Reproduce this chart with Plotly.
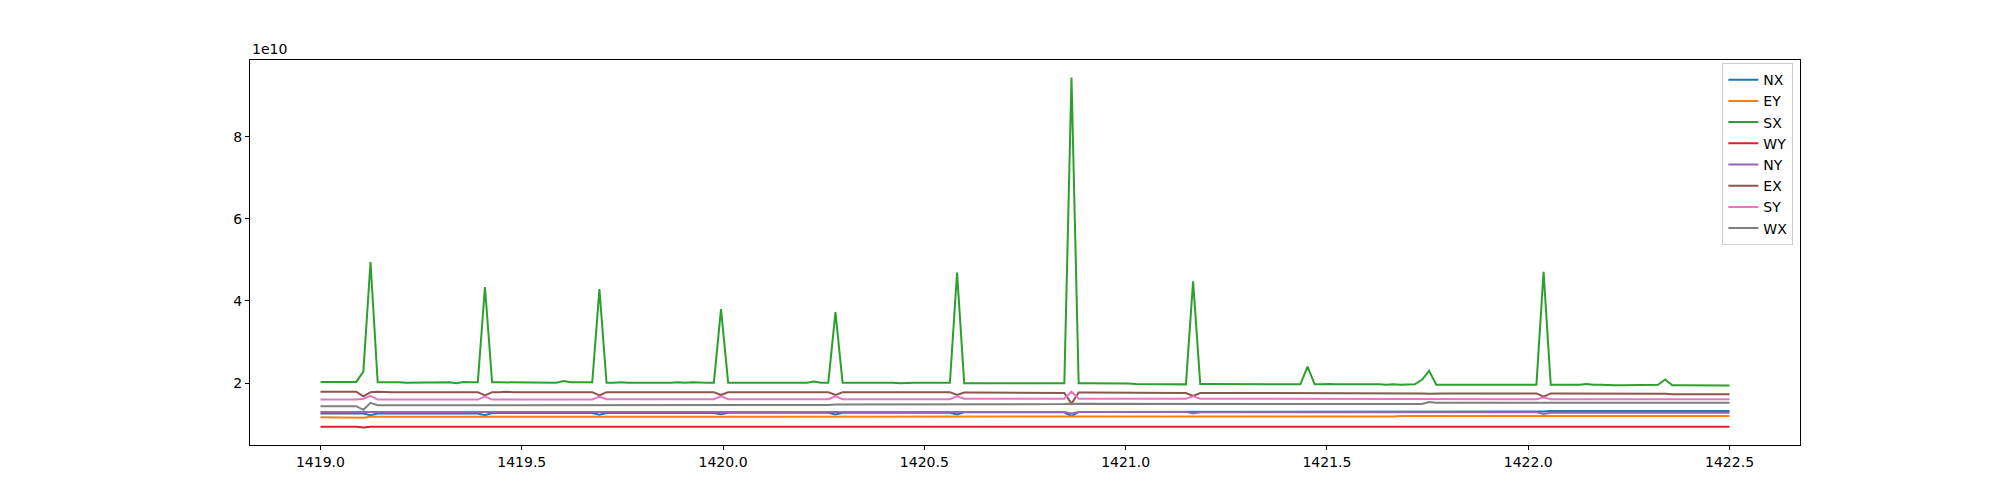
import numpy as np
import plotly.graph_objects as go

# sample positions (198 evenly spaced samples from 1419.0 to 1422.5)
x = np.linspace(1419.0, 1422.5, 198)

# values in units of 1e10
NX = [1.26, 1.26, 1.26, 1.26, 1.26, 1.26, 1.26,
      1.22,
      1.26, 1.26, 1.26, 1.26, 1.26, 1.26, 1.26, 1.26, 1.26, 1.26, 1.26, 1.26, 1.26, 1.26, 1.26,
      1.22,
      1.27, 1.27, 1.27, 1.27, 1.27, 1.27, 1.27, 1.27, 1.27, 1.27, 1.27, 1.27, 1.27, 1.27, 1.27,
      1.23,
      1.27, 1.27, 1.27, 1.27, 1.27, 1.27, 1.27, 1.27, 1.27, 1.27, 1.27, 1.27, 1.27, 1.27, 1.27, 1.27,
      1.24,
      1.28, 1.28, 1.28, 1.28, 1.28, 1.28, 1.28, 1.28, 1.28, 1.28, 1.28, 1.28, 1.28, 1.28, 1.28,
      1.24,
      1.28, 1.28, 1.28, 1.28, 1.28, 1.28, 1.28, 1.28, 1.28, 1.28, 1.28, 1.28, 1.28, 1.28, 1.28, 1.28,
      1.24,
      1.29, 1.29, 1.29, 1.29, 1.29, 1.29, 1.29, 1.29, 1.29, 1.29, 1.29, 1.29, 1.29, 1.29, 1.29,
      1.20,
      1.30, 1.30, 1.30, 1.30, 1.30, 1.30, 1.30, 1.30, 1.30, 1.30, 1.30, 1.30, 1.30, 1.30, 1.30, 1.30,
      1.30,
      1.31, 1.31, 1.31, 1.31, 1.31, 1.31, 1.31, 1.31, 1.31, 1.31, 1.31, 1.31, 1.31, 1.31, 1.31,
      1.31, 1.31, 1.31, 1.31, 1.31, 1.31, 1.31, 1.31, 1.31, 1.31, 1.31, 1.31, 1.31, 1.31, 1.31, 1.31,
      1.31, 1.31, 1.31, 1.31, 1.31, 1.31, 1.31, 1.31, 1.31, 1.31, 1.31, 1.31, 1.31, 1.31, 1.31, 1.31, 1.31,
      1.31,
      1.32, 1.32, 1.32, 1.32, 1.32, 1.32, 1.32, 1.32, 1.32, 1.32, 1.32, 1.32, 1.32,
      1.32, 1.32, 1.32, 1.32, 1.32, 1.32, 1.32, 1.32, 1.32, 1.32, 1.32, 1.32, 1.32]

EY = [1.17, 1.17, 1.17, 1.17, 1.17, 1.17,
      1.16,
      1.18, 1.18, 1.18, 1.18, 1.18, 1.18, 1.18, 1.18, 1.18, 1.18, 1.18, 1.18, 1.18, 1.18, 1.18, 1.18, 1.18, 1.18,
      1.18, 1.18, 1.18, 1.18, 1.18, 1.18, 1.18, 1.18, 1.18, 1.18, 1.18, 1.18, 1.18, 1.18, 1.18, 1.18, 1.18, 1.18,
      1.18, 1.18, 1.18, 1.18, 1.18, 1.18, 1.18, 1.18, 1.18, 1.18, 1.18, 1.18, 1.18, 1.18, 1.18, 1.18, 1.18, 1.18,
      1.18, 1.18, 1.18, 1.18, 1.18, 1.18, 1.18, 1.18, 1.18, 1.18, 1.18, 1.18, 1.18, 1.18, 1.18, 1.18, 1.18, 1.18,
      1.18, 1.18,
      1.19, 1.19, 1.19, 1.19, 1.19, 1.19, 1.19, 1.19, 1.19, 1.19, 1.19, 1.19, 1.19, 1.19, 1.19, 1.19, 1.19, 1.19,
      1.19, 1.19, 1.19, 1.19, 1.19, 1.19, 1.19, 1.19, 1.19, 1.19, 1.19, 1.19, 1.19, 1.19, 1.19, 1.19, 1.19, 1.19,
      1.19, 1.19, 1.19, 1.19, 1.19, 1.19, 1.19, 1.19, 1.19, 1.19, 1.19, 1.19, 1.19, 1.19, 1.19, 1.19, 1.19, 1.19,
      1.19, 1.19, 1.19, 1.19, 1.19, 1.19, 1.19, 1.19, 1.19, 1.19, 1.19, 1.19, 1.19, 1.19, 1.19, 1.19,
      1.20, 1.20, 1.20, 1.20, 1.20, 1.20, 1.20, 1.20, 1.20, 1.20, 1.20, 1.20, 1.20, 1.20, 1.20, 1.20,
      1.20, 1.20, 1.20, 1.20, 1.20, 1.20, 1.20, 1.20, 1.20, 1.20, 1.20, 1.20, 1.20, 1.20, 1.20, 1.20,
      1.20, 1.20, 1.20, 1.20, 1.20, 1.20, 1.20, 1.20, 1.20, 1.20, 1.20, 1.20, 1.20, 1.20, 1.20]

SX = [2.03, 2.03, 2.02, 2.02, 2.02, 2.03, 2.28,
      4.95,
      2.02, 2.02, 2.03, 2.02, 2.01, 2.01, 2.02, 2.02, 2.01, 2.02, 2.02, 2.00, 2.03, 2.02, 2.02,
      4.34,
      2.02, 2.02, 2.02, 2.02, 2.01, 2.02, 2.01, 2.01, 2.02, 2.01, 2.05, 2.02, 2.02, 2.02, 2.02,
      4.29,
      2.01, 2.01, 2.02, 2.01, 2.01, 2.01, 2.01, 2.00, 2.01, 2.01, 2.02, 2.01, 2.02, 2.01, 2.01, 2.01,
      3.80,
      2.01, 2.01, 2.02, 2.01, 2.01, 2.01, 2.01, 2.02, 2.01, 2.01, 2.02, 2.01, 2.04, 2.01, 2.01,
      3.73,
      2.01, 2.01, 2.02, 2.01, 2.01, 2.01, 2.01, 2.01, 2.00, 2.01, 2.01, 2.01, 2.01, 2.01, 2.01, 2.01,
      4.69,
      2.00, 2.00, 2.00, 2.00, 2.00, 2.00, 2.00, 2.00, 2.00, 2.00, 2.00, 1.99, 2.00, 2.00, 2.00,
      9.44,
      2.00, 2.00, 2.00, 1.99, 1.99, 1.99, 1.99, 1.99, 1.98, 1.98, 1.98, 1.98, 1.98, 1.98, 1.98, 1.97,
      4.48,
      1.98, 1.98, 1.98, 1.98, 1.97, 1.97, 1.97, 1.97, 1.97, 1.97, 1.97, 1.97, 1.98, 1.97, 1.97,
      2.40,
      1.97, 1.97, 1.98, 1.97, 1.97, 1.97, 1.97, 1.98, 1.97, 1.97, 1.96, 1.97, 1.96, 1.97, 1.97,
      2.08,
      2.30,
      1.96, 1.96, 1.96, 1.96, 1.96, 1.96, 1.95, 1.96, 1.96, 1.96, 1.95, 1.96, 1.96, 1.95, 1.96,
      4.71,
      1.96, 1.96, 1.96, 1.96, 1.96, 1.98, 1.96, 1.96, 1.95, 1.95, 1.95, 1.95, 1.95, 1.95, 1.95, 1.96,
      2.09,
      1.95, 1.95, 1.95, 1.95, 1.95, 1.94, 1.94, 1.94, 1.94]

WY = [0.94, 0.94, 0.94, 0.94, 0.94, 0.94,
      0.92,
      0.94, 0.94, 0.94, 0.94, 0.94, 0.94, 0.94, 0.94, 0.94, 0.94, 0.94, 0.94, 0.94, 0.94, 0.94, 0.94, 0.94, 0.94,
      0.94, 0.94, 0.94, 0.94, 0.94, 0.94, 0.94, 0.94, 0.94, 0.94, 0.94, 0.94, 0.94, 0.94, 0.94, 0.94, 0.94, 0.94,
      0.94, 0.94, 0.94, 0.94, 0.94, 0.94, 0.94, 0.94, 0.94, 0.94, 0.94, 0.94, 0.94, 0.94, 0.94, 0.94, 0.94, 0.94,
      0.94, 0.94, 0.94, 0.94, 0.93, 0.93, 0.93, 0.93, 0.93, 0.93, 0.94, 0.94, 0.94, 0.94, 0.94, 0.94, 0.94, 0.94,
      0.94, 0.94, 0.94, 0.94, 0.94, 0.94, 0.94, 0.94, 0.94, 0.94, 0.94, 0.94, 0.94, 0.94, 0.94, 0.94, 0.94, 0.94,
      0.94, 0.94, 0.94, 0.94, 0.94, 0.94, 0.94, 0.94, 0.94, 0.94, 0.94, 0.94, 0.94, 0.94, 0.94, 0.94, 0.94, 0.94,
      0.94, 0.94, 0.94, 0.94, 0.94, 0.94, 0.94, 0.94, 0.94, 0.94, 0.94, 0.94, 0.94, 0.94, 0.94, 0.94, 0.94, 0.94,
      0.94, 0.94, 0.94, 0.94, 0.94, 0.94, 0.94, 0.94, 0.94, 0.94, 0.94, 0.94, 0.94, 0.94, 0.94, 0.94, 0.94, 0.94,
      0.94, 0.94, 0.94, 0.94, 0.94, 0.94, 0.94, 0.94, 0.94, 0.94, 0.94, 0.94, 0.94, 0.94, 0.94, 0.94, 0.94, 0.94,
      0.94, 0.94, 0.94, 0.94, 0.94, 0.94, 0.94, 0.94, 0.94, 0.94, 0.94, 0.94, 0.94, 0.94, 0.94, 0.94, 0.94, 0.94,
      0.94, 0.94, 0.94, 0.94, 0.94, 0.94, 0.94, 0.94, 0.94, 0.94, 0.94]

NY = [1.30, 1.30, 1.30, 1.30, 1.30, 1.30, 1.30, 1.30, 1.30, 1.30, 1.30, 1.30, 1.30, 1.30, 1.30,
      1.30, 1.30, 1.30, 1.30, 1.30, 1.30, 1.30, 1.30, 1.30, 1.30, 1.30, 1.30, 1.30, 1.30, 1.30,
      1.30, 1.30, 1.30, 1.30, 1.30, 1.30, 1.30, 1.30, 1.30, 1.30, 1.30, 1.30, 1.30, 1.30, 1.30,
      1.30, 1.30, 1.30, 1.30, 1.30, 1.30, 1.30, 1.30, 1.30, 1.30, 1.30, 1.30, 1.30, 1.30, 1.30,
      1.30, 1.30, 1.30, 1.30, 1.30, 1.30, 1.30, 1.30, 1.30, 1.30, 1.30, 1.30, 1.30, 1.30, 1.30,
      1.30, 1.30, 1.30, 1.30, 1.30, 1.30, 1.30, 1.30, 1.30, 1.30, 1.30, 1.30, 1.30, 1.30, 1.30,
      1.30, 1.30, 1.30, 1.30, 1.30, 1.30, 1.30, 1.30, 1.30, 1.30, 1.30, 1.30, 1.30, 1.30, 1.30,
      1.26,
      1.30, 1.30, 1.30, 1.30, 1.30, 1.30, 1.30, 1.30, 1.30, 1.30, 1.30, 1.30, 1.30, 1.30, 1.30, 1.30,
      1.26,
      1.29, 1.29, 1.29, 1.29, 1.29, 1.29, 1.29, 1.29, 1.29, 1.29, 1.29, 1.29, 1.29, 1.29, 1.29, 1.29,
      1.29, 1.29, 1.29, 1.29, 1.29, 1.29, 1.29, 1.29, 1.29, 1.29, 1.29, 1.29, 1.29, 1.29, 1.29, 1.29,
      1.29, 1.29, 1.29, 1.29, 1.29, 1.29, 1.29, 1.29, 1.29, 1.29, 1.29, 1.29, 1.29, 1.29, 1.29, 1.29,
      1.25,
      1.28, 1.28, 1.28, 1.28, 1.28, 1.28, 1.28, 1.28, 1.28, 1.28, 1.28, 1.28, 1.28,
      1.28, 1.28, 1.28, 1.28, 1.28, 1.28, 1.28, 1.28, 1.28, 1.28, 1.28, 1.28, 1.28]

EX = [1.79, 1.79, 1.79, 1.79, 1.79, 1.79,
      1.68,
      1.78,
      1.79, 1.78, 1.78, 1.78, 1.78, 1.78, 1.78, 1.78, 1.78, 1.78, 1.78, 1.78, 1.78, 1.78, 1.78,
      1.70,
      1.78, 1.78, 1.79, 1.78, 1.78, 1.78, 1.78, 1.78, 1.78, 1.78, 1.78, 1.78, 1.78, 1.78, 1.78,
      1.70,
      1.78, 1.78, 1.78, 1.78, 1.78, 1.78, 1.78, 1.78, 1.78, 1.78, 1.78, 1.78, 1.78, 1.78, 1.78, 1.78,
      1.71,
      1.78, 1.78, 1.78, 1.78, 1.78, 1.78, 1.78, 1.78, 1.78, 1.79, 1.79, 1.78, 1.78, 1.78, 1.78,
      1.71,
      1.78, 1.78, 1.78, 1.78, 1.78, 1.78, 1.78, 1.78, 1.79, 1.79, 1.79, 1.79, 1.79, 1.79, 1.79, 1.78,
      1.71,
      1.77, 1.77, 1.77, 1.77, 1.77, 1.77, 1.77, 1.77, 1.77, 1.77, 1.77, 1.77, 1.76, 1.76, 1.76,
      1.50,
      1.77, 1.77, 1.77, 1.77, 1.76, 1.76, 1.76, 1.76, 1.76, 1.76, 1.76, 1.76, 1.76, 1.76, 1.76, 1.76,
      1.69,
      1.76, 1.76, 1.76, 1.76, 1.76, 1.76, 1.76, 1.76, 1.76, 1.76, 1.76, 1.76, 1.76, 1.76, 1.76,
      1.75,
      1.76, 1.76, 1.76, 1.76, 1.75, 1.75, 1.75, 1.75, 1.75, 1.75, 1.75, 1.75, 1.75, 1.75, 1.75, 1.75,
      1.74,
      1.75, 1.75, 1.75, 1.75, 1.75, 1.75, 1.75, 1.75, 1.75, 1.75, 1.75, 1.75, 1.75, 1.75, 1.75,
      1.67,
      1.75, 1.75, 1.75, 1.75, 1.75, 1.74, 1.74, 1.74, 1.74, 1.74, 1.74, 1.74, 1.74,
      1.74, 1.74, 1.74, 1.74, 1.73, 1.73, 1.73, 1.73, 1.73, 1.73, 1.73, 1.73, 1.73]

SY = [1.60, 1.60, 1.60, 1.60, 1.60, 1.60,
      1.62,
      1.69,
      1.60, 1.60, 1.60, 1.60, 1.60, 1.60, 1.60, 1.60, 1.60, 1.60, 1.60, 1.60, 1.60, 1.60, 1.60,
      1.67,
      1.60, 1.60, 1.60, 1.60, 1.60, 1.60, 1.60, 1.60, 1.60, 1.60, 1.60, 1.60, 1.60, 1.60, 1.60,
      1.67,
      1.61, 1.61, 1.61, 1.61, 1.61, 1.61, 1.61, 1.61, 1.61, 1.61, 1.61, 1.61, 1.61, 1.61, 1.61, 1.61,
      1.68,
      1.61, 1.61, 1.61, 1.61, 1.61, 1.61, 1.61, 1.61, 1.61, 1.61, 1.61, 1.61, 1.61, 1.61, 1.61,
      1.68,
      1.61, 1.61, 1.61, 1.61, 1.61, 1.61, 1.61, 1.61, 1.61, 1.61, 1.61, 1.61, 1.61, 1.61, 1.61, 1.61,
      1.68,
      1.62, 1.62, 1.62, 1.62, 1.62, 1.62, 1.62, 1.62, 1.62, 1.62, 1.62, 1.62, 1.62, 1.62, 1.62,
      1.79,
      1.62, 1.62, 1.62, 1.62, 1.62, 1.62, 1.62, 1.62, 1.62, 1.62, 1.62, 1.62, 1.62, 1.62, 1.62, 1.62,
      1.68,
      1.62, 1.62, 1.62, 1.62, 1.62, 1.62, 1.62, 1.62, 1.62, 1.62, 1.62, 1.62, 1.62, 1.62, 1.62,
      1.62,
      1.62, 1.62, 1.62, 1.62, 1.62, 1.62, 1.62, 1.62, 1.62, 1.62, 1.62, 1.62, 1.62, 1.62, 1.62, 1.62,
      1.62,
      1.61, 1.61, 1.61, 1.61, 1.61, 1.61, 1.61, 1.61, 1.61, 1.61, 1.61, 1.61, 1.61, 1.61, 1.61,
      1.65,
      1.61, 1.61, 1.61, 1.61, 1.61, 1.61, 1.61, 1.61, 1.61, 1.61, 1.61, 1.61, 1.61,
      1.61, 1.61, 1.61, 1.61, 1.61, 1.61, 1.61, 1.61, 1.61, 1.61, 1.61, 1.61, 1.61]

WX = [1.44, 1.44, 1.44, 1.44, 1.44, 1.44,
      1.35,
      1.52,
      1.46, 1.46, 1.46, 1.46, 1.46, 1.46, 1.46, 1.46, 1.46, 1.46, 1.46, 1.46, 1.46, 1.46, 1.46,
      1.46, 1.46, 1.46, 1.46, 1.46, 1.46, 1.46, 1.46, 1.46, 1.46, 1.46, 1.46, 1.46, 1.46, 1.46, 1.46,
      1.47, 1.47, 1.47, 1.47, 1.47, 1.47, 1.47, 1.47, 1.47, 1.47, 1.47, 1.47, 1.47, 1.47, 1.47, 1.47, 1.47,
      1.47, 1.47, 1.47, 1.47, 1.47, 1.47, 1.47, 1.47, 1.47, 1.47, 1.47, 1.47, 1.47, 1.47, 1.47, 1.47,
      1.48, 1.48, 1.48, 1.48, 1.48, 1.48, 1.48, 1.48, 1.48, 1.48, 1.48, 1.48, 1.48, 1.48, 1.48, 1.48, 1.48,
      1.49, 1.49, 1.49, 1.49, 1.49, 1.49, 1.49, 1.49, 1.49, 1.49, 1.49, 1.49, 1.49, 1.49, 1.49, 1.49,
      1.50, 1.50, 1.50, 1.50, 1.50, 1.50, 1.50, 1.50, 1.50, 1.50, 1.50, 1.50, 1.50, 1.50, 1.50, 1.50, 1.50,
      1.50, 1.50, 1.50, 1.50, 1.50, 1.50, 1.50, 1.50, 1.50, 1.50, 1.50, 1.50, 1.50, 1.50, 1.50, 1.50,
      1.49, 1.49, 1.49, 1.49, 1.49, 1.49, 1.49, 1.49, 1.49, 1.49, 1.49, 1.49, 1.49, 1.49, 1.49, 1.49, 1.49,
      1.54,
      1.52, 1.52, 1.52, 1.52, 1.52, 1.52, 1.52, 1.52, 1.52, 1.52, 1.52, 1.52, 1.52, 1.52, 1.52,
      1.52, 1.52, 1.52, 1.52, 1.52, 1.52, 1.52, 1.52, 1.52, 1.52, 1.52, 1.52, 1.52, 1.52,
      1.52, 1.52, 1.52, 1.52, 1.52, 1.52, 1.52, 1.52, 1.52, 1.52, 1.52, 1.52, 1.52]

names = ["NX", "EY", "SX", "WY", "NY", "EX", "SY", "WX"]
series = [NX, EY, SX, WY, NY, EX, SY, WX]
colors = ["#1f77b4", "#ff7f0e", "#2ca02c", "#d62728",
          "#9467bd", "#8c564b", "#e377c2", "#7f7f7f"]

bad = [(n, len(s)) for n, s in zip(names, series) if len(s) != len(x)]
assert not bad, bad

x_ticks = [1419.0, 1419.5, 1420.0, 1420.5, 1421.0, 1421.5, 1422.0, 1422.5]
x_tick_text = ["1419.0", "1419.5", "1420.0", "1420.5", "1421.0", "1421.5", "1422.0", "1422.5"]
y_ticks = [2, 4, 6, 8]
y_tick_text = ["2", "4", "6", "8"]

fig = go.Figure()
for n, s, c in zip(names, series, colors):
    fig.add_trace(go.Scatter(x=x, y=s, mode="lines", name=n,
                             line=dict(color=c, width=2)))

# matplotlib-like 5% margins
ymin = min(min(s) for s in series)
ymax = max(max(s) for s in series)
ypad = (ymax - ymin) * 0.05
xpad = (x[-1] - x[0]) * 0.05

# the page body has an 8px margin, so the figure is sized/offset to compensate
font = dict(family="DejaVu Sans", size=14, color="black")
fig.update_layout(
    width=1992, height=492,
    margin=dict(l=242, r=200, t=52, b=55),
    paper_bgcolor="white", plot_bgcolor="white",
    font=font,
    showlegend=True,
    legend=dict(x=0.9957, y=0.992, xanchor="right", yanchor="top",
                bgcolor="rgba(255,255,255,0.8)", bordercolor="#cccccc",
                borderwidth=1, font=font, tracegroupgap=0),
    xaxis=dict(range=[x[0] - xpad, x[-1] + xpad], tickvals=x_ticks, ticktext=x_tick_text,
               showgrid=False, zeroline=False, showline=True, linecolor="black",
               linewidth=1, mirror=True, ticks="outside", ticklen=4, tickwidth=1,
               tickcolor="black", tickfont=font),
    yaxis=dict(range=[ymin - ypad, ymax + ypad], tickvals=y_ticks, ticktext=y_tick_text,
               showgrid=False, zeroline=False, showline=True, linecolor="black",
               linewidth=1, mirror=True, ticks="outside", ticklen=4, tickwidth=1,
               tickcolor="black", tickfont=font),
    annotations=[dict(text="1e10", xref="paper", yref="paper", x=0, y=1,
                      xanchor="left", yanchor="bottom", showarrow=False,
                      font=font, yshift=1)],
)

fig.write_html("out.html")
